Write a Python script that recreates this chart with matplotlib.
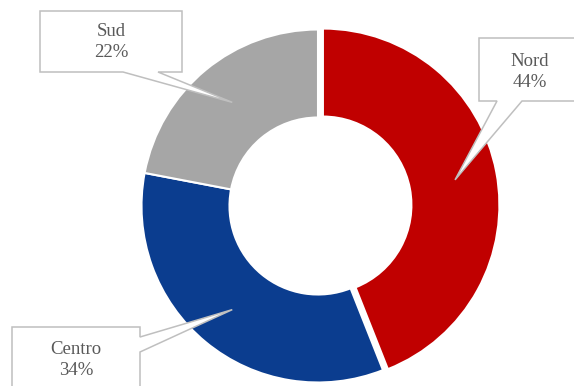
import math
import matplotlib.pyplot as plt
from matplotlib.patches import Polygon

plt.rcParams['font.family'] = ['Liberation Serif', 'DejaVu Serif']

labels = ['Nord', 'Centro', 'Sud']
shares = [44, 34, 22]
colors = ['#C00000', '#0B3D8F', '#A6A6A6']

W, H = 574, 386
cx, cy = 318, H - 206
R = 176.5
ring = 88
explode = [5, 0, 0]   # pixels

fig = plt.figure(figsize=(W / 100, H / 100), dpi=100)
ax = fig.add_axes([0, 0, 1, 1])
ax.pie(shares, colors=colors, startangle=90, counterclock=False,
       center=(cx, cy), radius=R, explode=explode,
       wedgeprops=dict(width=ring, edgecolor='white', linewidth=1.5))
ax.set_xlim(0, W)
ax.set_ylim(0, H)
ax.set_aspect('equal')
ax.axis('off')

# callout boxes: (left, top, right, bottom) in pixels from top, pointer base, text centre
boxes = {
    'Nord':   dict(box=(479, 38, 582, 101), side='bottom', base=(497, 522), txt=(530, 72)),
    'Centro': dict(box=(12, 327, 140, 396), side='right', base=(337, 352), txt=(76, 360)),
    'Sud':    dict(box=(40, 11, 182, 72), side='bottom', base=(123, 158), txt=(111, 42)),
}

total = sum(shares)
start = 90.0
for lab, val, exp in zip(labels, shares, explode):
    sweep = 360.0 * val / total
    mid = math.radians(start - sweep / 2)
    start -= sweep
    rm = R - ring / 2 + 2
    tx = cx + exp * math.cos(mid) + rm * math.cos(mid)
    ty = cy + exp * math.sin(mid) + rm * math.sin(mid)
    b = boxes[lab]
    l, t, r, bt = b['box']
    t, bt = H - t, H - bt
    if b['side'] == 'bottom':
        b0, b1 = b['base']
        pts = [(l, t), (r, t), (r, bt), (b1, bt), (tx, ty), (b0, bt), (l, bt)]
    else:
        b0, b1 = H - b['base'][0], H - b['base'][1]
        pts = [(l, t), (r, t), (r, b0), (tx, ty), (r, b1), (r, bt), (l, bt)]
    ax.add_patch(Polygon(pts, closed=True, facecolor='white',
                         edgecolor='#BFBFBF', linewidth=1.1, clip_on=False,
                         zorder=3))
    ax.text(b['txt'][0], H - b['txt'][1], f'{lab}\n{val}%', ha='center',
            va='center', fontsize=13.5, color='#595959', linespacing=1.3,
            zorder=4)

fig.savefig('out.png', dpi=100)
